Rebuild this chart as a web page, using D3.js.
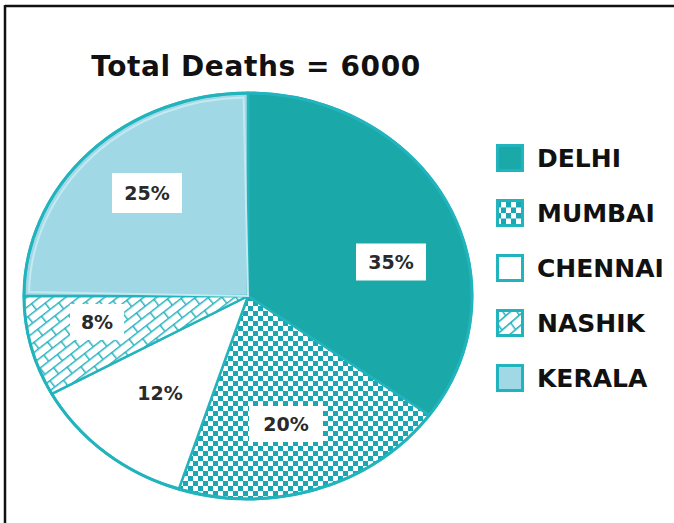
<!DOCTYPE html>
<html>
<head>
<meta charset="utf-8">
<script src="https://cdn.jsdelivr.net/npm/d3@7"></script>
<style>
  body { margin: 0; background: #fff; }
  svg { display: block; font-family: "DejaVu Sans", sans-serif; }
</style>
</head>
<body>
<div class="render"></div>
<script>
"use strict";

var width = 674;
var height = 523;

var cities = ["DELHI", "MUMBAI", "CHENNAI", "NASHIK", "KERALA"];
var shares = [35, 20, 12, 8, 25];
var title = "Total Deaths = 6000";

var edge = "#22b4bd";

var svg = d3.select(".render").append("svg").attr("width", width).attr("height", height);

// frame, only top and left show in the picture
svg.append("line").attr("x1", 5).attr("x2", width).attr("y1", 6).attr("y2", 6).attr("stroke", "#111").attr("stroke-width", 2.5);
svg.append("line").attr("x1", 5).attr("x2", 5).attr("y1", 5).attr("y2", height).attr("stroke", "#111").attr("stroke-width", 2.5);

var cx = 248, cy = 296, rx = 224, ry = 203;
var k = ry / rx;

var defs = svg.append("defs");

// checkerboard for mumbai
var chk = defs.append("pattern").attr("id", "chk").attr("patternUnits", "userSpaceOnUse")
   .attr("width", 10).attr("height", 10).attr("patternTransform", "scale(1," + (1 / k) + ")");
chk.append("rect").attr("width", 10).attr("height", 10).attr("fill", "#fff");
chk.append("rect").attr("width", 5).attr("height", 5).attr("fill", "#1ba6b4");
chk.append("rect").attr("x", 5).attr("y", 5).attr("width", 5).attr("height", 5).attr("fill", "#1ba6b4");

// bricks for nashik
var brk = defs.append("pattern").attr("id", "brk").attr("patternUnits", "userSpaceOnUse")
   .attr("width", 22).attr("height", 16).attr("patternTransform", "scale(1," + (1 / k) + ") rotate(-38)");
brk.append("rect").attr("width", 22).attr("height", 16).attr("fill", "#fff");
brk.append("path").attr("d", "M0,0.75H22M0,8.75H22M0.75,0V8.75M11.75,8.75V16")
   .attr("stroke", "#2ab3c0").attr("stroke-width", 1.5).attr("fill", "none");

var fills = ["#1aa8a8", "url(#chk)", "#fff", "url(#brk)", "#a0d8e6"];
var color = d3.scaleOrdinal().domain(cities).range(fills);

var pie = d3.pie().sort(null).value(function (d) { return d.v; });
var data = cities.map(function (c, i) { return { name: c, v: shares[i] }; });
var arcs = pie(data);
var arc = d3.arc().innerRadius(0).outerRadius(rx);

var g = svg.append("g").attr("transform", "translate(" + cx + "," + cy + ") scale(1," + k + ")");

g.selectAll(".slice").data(arcs).enter().append("path")
   .attr("class", "slice")
   .attr("d", arc)
   .attr("fill", function (d) { return color(d.data.name); })
   .attr("stroke", edge)
   .attr("stroke-width", 2.5)
   .attr("vector-effect", "non-scaling-stroke");

// light rim inside kerala
g.append("path").datum(arcs[4])
   .attr("d", d3.arc().innerRadius(0).outerRadius(rx - 5).startAngle(arcs[4].startAngle + 0.02).endAngle(arcs[4].endAngle - 0.02))
   .attr("fill", "none").attr("stroke", "#c4e9f1").attr("stroke-width", 2).attr("vector-effect", "non-scaling-stroke");

g.append("ellipse").attr("rx", rx).attr("ry", rx).attr("fill", "none")
   .attr("stroke", edge).attr("stroke-width", 3).attr("vector-effect", "non-scaling-stroke");

// labels
var labelPos = [[391, 262], [286, 424], [160, 393], [97, 322], [147, 193]];
var boxed = [true, true, false, true, true];
var boxSize = [[70, 37], [74, 36], [0, 0], [54, 36], [70, 40]];
var lab = svg.selectAll(".lab").data(arcs).enter().append("g").attr("class", "lab")
   .attr("transform", function (d, i) { return "translate(" + labelPos[i][0] + "," + labelPos[i][1] + ")"; });
lab.filter(function (d, i) { return boxed[i]; }).append("rect")
   .attr("x", function (d) { return -boxSize[d.index][0] / 2; })
   .attr("y", function (d) { return -boxSize[d.index][1] / 2; })
   .attr("width", function (d) { return boxSize[d.index][0]; })
   .attr("height", function (d) { return boxSize[d.index][1]; })
   .attr("fill", "#fff");
lab.append("text").attr("text-anchor", "middle").attr("dy", "0.36em")
   .attr("font-size", 19).attr("font-weight", 700).attr("fill", "#2a2a2a")
   .text(function (d) { return d.data.v + "%"; });

// title
svg.append("text").attr("x", 256).attr("y", 76).attr("text-anchor", "middle")
   .attr("font-size", 28).attr("font-weight", 700).attr("fill", "#111")
   .attr("letter-spacing", 0.6)
   .text(title);

// legend
var ly = d3.scalePoint().domain(cities).range([158, 378]);
var leg = svg.selectAll(".leg").data(cities).enter().append("g").attr("class", "leg")
   .attr("transform", function (d) { return "translate(496," + ly(d) + ")"; });
leg.append("rect").attr("x", 1.5).attr("y", -12.5).attr("width", 25).attr("height", 25)
   .attr("fill", function (d) { return color(d); })
   .attr("stroke", edge).attr("stroke-width", 3);
leg.append("text").attr("x", 41).attr("dy", "0.36em")
   .attr("font-size", 25).attr("font-weight", 700).attr("fill", "#111")
   .text(function (d) { return d; });
</script>
</body>
</html>
